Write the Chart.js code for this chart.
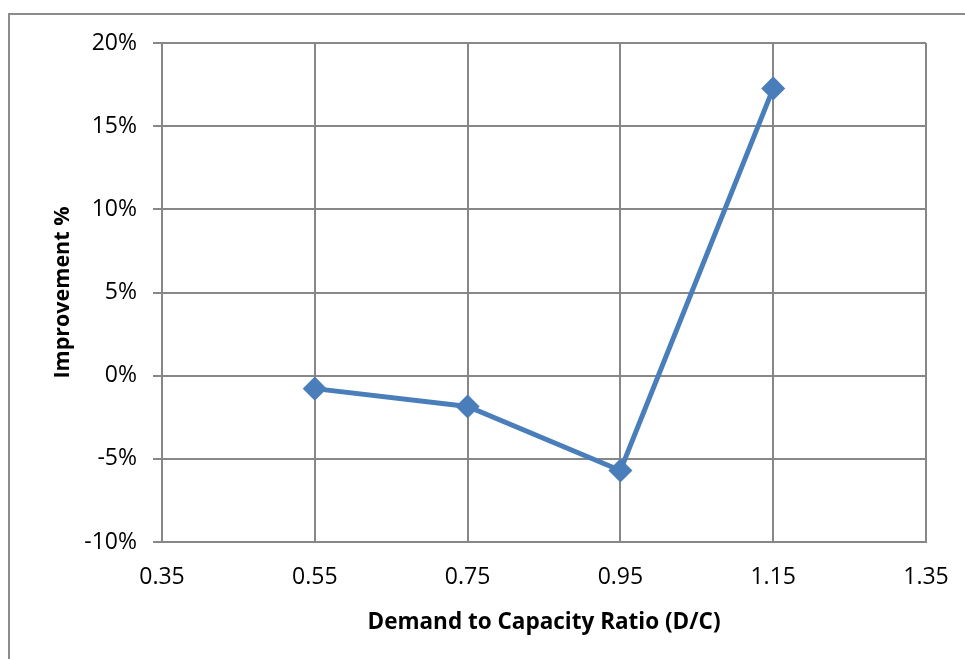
<!DOCTYPE html>
<html>
<head>
<meta charset="utf-8">
<script src="https://cdn.jsdelivr.net/npm/chart.js@4/dist/chart.umd.min.js"></script>
<style>
html,body{margin:0;padding:0;background:#fff;overflow:hidden;}
#frame{position:absolute;left:8px;top:13px;width:1000px;height:700px;border:2px solid #8c8c8c;box-sizing:border-box;}
#wrap{position:absolute;left:0;top:0;width:965px;height:659px;}
</style>
</head>
<body>
<div id="frame"></div>
<div id="wrap"><canvas id="c" width="965" height="659"></canvas></div>
<script>
const ratios = [0.55, 0.75, 0.95, 1.15];
const improvement = [-0.78, -1.85, -5.7, 17.27];
const xTickValues = [0.35, 0.55, 0.75, 0.95, 1.15, 1.35];
const xTitle = "Demand to Capacity Ratio (D/C)";
const yTitle = "Improvement %";

const FONT = "'Open Sans', sans-serif";
const gridColor = '#878787';

new Chart(document.getElementById('c'), {
  type: 'scatter',
  data: {
    datasets: [{
      data: ratios.map((x, i) => ({x: x, y: improvement[i]})),
      showLine: true,
      borderColor: '#4a7ebb',
      backgroundColor: '#4a7ebb',
      borderWidth: 5,
      pointStyle: 'rectRot',
      pointRadius: 8.5,
      pointHoverRadius: 8.5,
      tension: 0
    }]
  },
  options: {
    responsive: false,
    animation: false,
    events: [],
    layout: {padding: {left: 46, right: 39, top: 43, bottom: 0}},
    plugins: {legend: {display: false}, tooltip: {enabled: false}},
    scales: {
      x: {
        type: 'linear',
        min: 0.35, max: 1.35,
        afterBuildTicks: s => { s.ticks = xTickValues.map(v => ({value: v})); },
        ticks: {
          color: '#000',
          font: {family: FONT, size: 23},
          padding: 22,
          callback: v => Number(v).toFixed(2)
        },
        grid: {color: gridColor, lineWidth: 2, tickLength: 0},
        border: {color: gridColor, width: 2},
        title: {display: true, text: xTitle, color: '#000', font: {family: FONT, size: 22.5, weight: 'bold'}, padding: {top: 6, bottom: 23}},
        afterFit: s => { s.height = 117; s.paddingLeft = 0; s.paddingRight = 0; }
      },
      y: {
        min: -10, max: 20,
        ticks: {
          stepSize: 5,
          color: '#000',
          font: {family: FONT, size: 23},
          padding: 16,
          callback: v => v + '%'
        },
        grid: {color: gridColor, lineWidth: 2, tickLength: 9},
        border: {color: gridColor, width: 2},
        title: {display: true, text: yTitle, color: '#000', font: {family: FONT, size: 21.5, weight: 'bold'}, padding: {bottom: 4}},
        afterFit: s => { s.width = 116; s.paddingTop = 0; s.paddingBottom = 0; }
      }
    }
  }
});
</script>
</body>
</html>
